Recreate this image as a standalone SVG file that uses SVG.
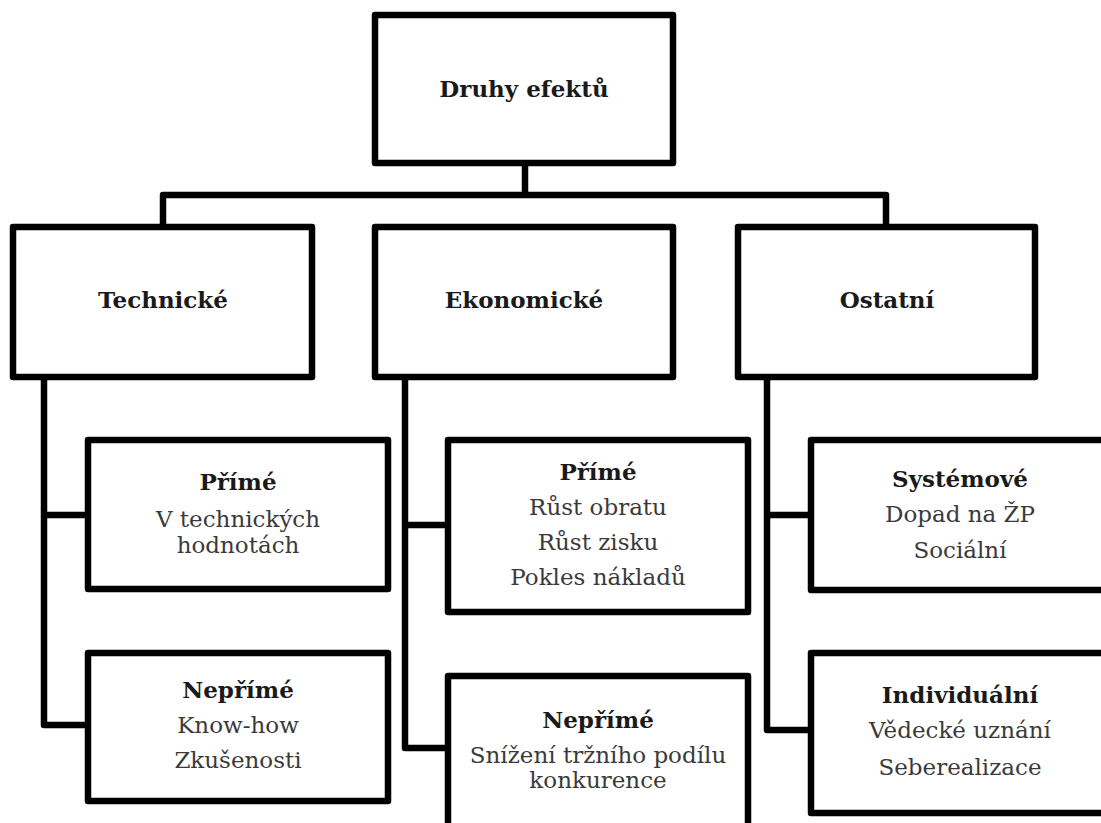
<svg xmlns="http://www.w3.org/2000/svg" width="1101" height="823" viewBox="0 0 1101 823">
<style>
.box{fill:#fff;stroke:#000;stroke-width:6.5;stroke-linejoin:round}
.con{fill:none;stroke:#000;stroke-width:6.5;stroke-linejoin:round}
text{font-family:"DejaVu Serif","Liberation Serif",serif;text-anchor:middle;font-size:23px}
.h{font-weight:bold;fill:#1a1a1a}
.b{fill:#3a3a3a}
</style>
<rect width="1101" height="823" fill="#fff"/>
<g id="connectors">
<path class="con" d="M525,163 V195 M163,227 V195 H886 V227"/>
<path class="con" d="M44,377 V725 H88 M44,515 H88"/>
<path class="con" d="M405,377 V748 H448 M405,525 H448"/>
<path class="con" d="M767,377 V730 H811 M767,515 H811"/>
</g>
<g id="root"><rect class="box" x="375" y="15" width="298" height="148"/><text class="h" x="524" y="97">Druhy efektů</text></g>
<g id="tech"><rect class="box" x="13" y="227" width="299" height="150"/><text class="h" x="163" y="308">Technické</text></g>
<g id="econ"><rect class="box" x="375" y="227" width="298" height="150"/><text class="h" x="524" y="308">Ekonomické</text></g>
<g id="other"><rect class="box" x="738" y="227" width="297" height="150"/><text class="h" x="887" y="308">Ostatní</text></g>
<g id="tech-direct"><rect class="box" x="88" y="440" width="300" height="149"/><text class="h" x="238" y="490">Přímé</text><text class="b" x="238" y="527">V technických</text><text class="b" x="238" y="553">hodnotách</text></g>
<g id="tech-indirect"><rect class="box" x="88" y="653" width="300" height="148"/><text class="h" x="238" y="698">Nepřímé</text><text class="b" x="238" y="733">Know-how</text><text class="b" x="238" y="768">Zkušenosti</text></g>
<g id="econ-direct"><rect class="box" x="448" y="440" width="300" height="172"/><text class="h" x="598" y="480">Přímé</text><text class="b" x="598" y="515">Růst obratu</text><text class="b" x="598" y="550">Růst zisku</text><text class="b" x="598" y="585">Pokles nákladů</text></g>
<g id="econ-indirect"><rect class="box" x="448" y="676" width="300" height="180"/><text class="h" x="598" y="728">Nepřímé</text><text class="b" x="598" y="763">Snížení tržního podílu</text><text class="b" x="598" y="788">konkurence</text></g>
<g id="other-system"><rect class="box" x="811" y="440" width="298" height="150"/><text class="h" x="960" y="487">Systémové</text><text class="b" x="960" y="522">Dopad na ŽP</text><text class="b" x="960" y="558">Sociální</text></g>
<g id="other-individual"><rect class="box" x="811" y="653" width="298" height="160"/><text class="h" x="960" y="703">Individuální</text><text class="b" x="960" y="738">Vědecké uznání</text><text class="b" x="960" y="775">Seberealizace</text></g>
</svg>
